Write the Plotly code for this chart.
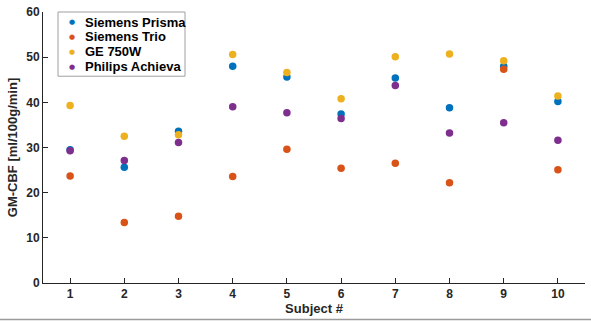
import plotly.graph_objects as go

subjects = [1, 2, 3, 4, 5, 6, 7, 8, 9, 10]
siemens_prisma = [29.5, 25.6, 33.6, 48.0, 45.6, 37.4, 45.4, 38.8, 48.0, 40.2]
siemens_trio = [23.7, 13.4, 14.8, 23.6, 29.6, 25.4, 26.5, 22.2, 47.3, 25.1]
ge_750w = [39.3, 32.5, 32.8, 50.6, 46.6, 40.8, 50.1, 50.7, 49.2, 41.4]
philips_achieva = [29.3, 27.1, 31.1, 39.0, 37.7, 36.4, 43.7, 33.2, 35.5, 31.6]

series_names = ["Siemens Prisma", "Siemens Trio", "GE 750W", "Philips Achieva"]
series_values = [siemens_prisma, siemens_trio, ge_750w, philips_achieva]
series_colors = ["#0072BD", "#D95319", "#EDB120", "#7E2F8E"]

FONT = "Liberation Sans, Arial, sans-serif"

fig = go.Figure()
for name, vals, col in zip(series_names, series_values, series_colors):
    fig.add_trace(go.Scatter(x=subjects, y=vals, mode="markers", name=name,
                             marker=dict(color=col, size=7.5, line=dict(width=0))))

fig.update_layout(
    width=591, height=321,
    margin=dict(l=43, r=6, t=12, b=38),
    paper_bgcolor="white", plot_bgcolor="white",
    font=dict(family=FONT, size=12, color="#262626"),
    showlegend=False,
    xaxis=dict(range=[0.5, 10.5], tickvals=subjects, ticktext=[str(s) for s in subjects],
               showgrid=False, zeroline=False, showline=True, linecolor="#262626", linewidth=1,
               ticks="inside", ticklen=5, tickcolor="#262626",
               tickfont=dict(family=FONT, size=12, color="#262626", weight="bold"),
               title=dict(text="<b>Subject #</b>", standoff=3,
                          font=dict(family=FONT, size=13, color="#262626"))),
    yaxis=dict(range=[0, 60], tickvals=[0, 10, 20, 30, 40, 50, 60],
               showgrid=False, zeroline=False, showline=True, linecolor="#262626", linewidth=1,
               ticks="inside", ticklen=5, tickcolor="#262626",
               tickfont=dict(family=FONT, size=12, color="#262626", weight="bold"),
               title=dict(text="<b>GM-CBF [ml/100g/min]</b>", standoff=5,
                          font=dict(family=FONT, size=13, color="#262626"))),
)

# legend box drawn to match the compact MATLAB-style legend
fig.add_shape(type="rect", xref="paper", yref="paper", x0=0.0277, x1=0.262, y0=0.763, y1=1.0,
              line=dict(color="#a0a0a0", width=1), fillcolor="white", layer="above")
leg_y = [0.963, 0.909, 0.853, 0.798]
for name, col, ly in zip(series_names, series_colors, leg_y):
    fig.add_annotation(xref="paper", yref="paper", x=0.053, y=ly, text="●", showarrow=False,
                       font=dict(family="DejaVu Sans", size=7, color=col), xanchor="center", yanchor="middle")
    fig.add_annotation(xref="paper", yref="paper", x=0.0775, y=ly, text="<b>" + name + "</b>", showarrow=False,
                       font=dict(family=FONT, size=13, color="#000000"), xanchor="left", yanchor="middle",
                       xshift=-2)

fig.add_shape(type="line", xref="paper", yref="paper", x0=-0.08, x1=1.02, y0=-0.135, y1=-0.135,
              line=dict(color="#9a9a9a", width=1.5))
fig.write_html("out.html", config={"displayModeBar": False},
               post_script="document.body.style.margin='0';document.body.style.overflow='hidden';")
